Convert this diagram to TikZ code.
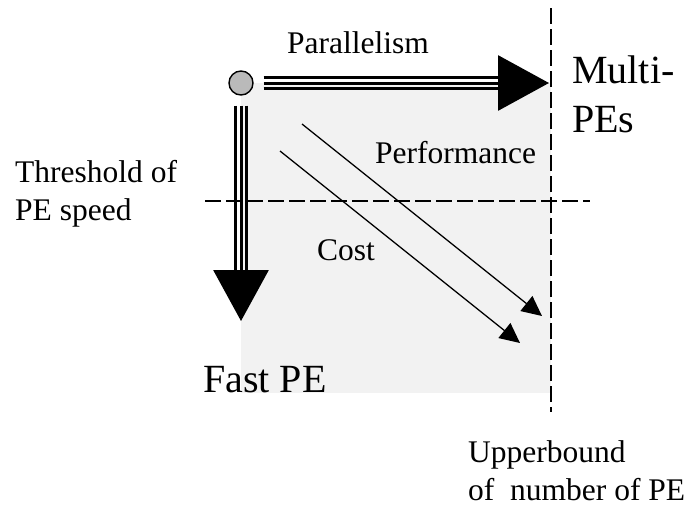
\documentclass[tikz,border=0pt]{standalone}
\usepackage{fontspec}
\setmainfont{Liberation Serif}
\usetikzlibrary{arrows.meta}
\begin{document}
\begin{tikzpicture}[x=1pt,y=-1pt,
  txt/.style={inner sep=0pt, anchor=base west, align=left,
    font=\fontsize{31.5}{38}\selectfont},
  bigtxt/.style={inner sep=0pt, anchor=base west, align=left,
    font=\fontsize{40}{49}\selectfont},
  guide/.style={line width=1.3pt, dash pattern=on 16pt off 5pt},
  rail/.style={line width=3pt},
  bigtip/.style={-{Triangle[length=51pt,width=55pt]}},
  trend/.style={line width=1.3pt, -{Triangle[length=20pt,width=19pt]}}]
\useasboundingbox (0,0) rectangle (688,506);

% design space
\fill[black!5] (241,83) rectangle (551,393);

% limits: PE count and PE speed
\coordinate (ubTop) at (551,8);
\coordinate (ubBot) at (551,412);
\coordinate (thL) at (205,201);
\coordinate (thR) at (590,201);
\draw[guide] (ubTop) -- (ubBot);
\draw[guide] (thL) -- (thR);

% performance and cost trends
\coordinate (perfA) at (302,124);
\coordinate (perfB) at (542,316);
\coordinate (costA) at (280,151);
\coordinate (costB) at (520,343);
\draw[trend] (perfA) -- (perfB);
\draw[trend] (costA) -- (costB);

% starting point and the two main directions
\node[circle, draw, line width=1.4pt, fill=black!27, minimum size=24pt,
  inner sep=0pt] (src) at (241,83) {};
\coordinate (hTip) at (549,83);
\coordinate (vTip) at (241,321);

\draw[rail, bigtip] ([xshift=10pt]src.east) -- (hTip);
\draw[rail] ([xshift=10pt,yshift=5.7pt]src.east) -- ([xshift=-51pt,yshift=5.7pt]hTip);
\draw[rail] ([xshift=10pt,yshift=-5.7pt]src.east) -- ([xshift=-51pt,yshift=-5.7pt]hTip);

\draw[rail, bigtip] ([yshift=-10pt]src.south) -- (vTip);
\draw[rail] ([xshift=5.7pt,yshift=-10pt]src.south) -- ([xshift=5.7pt,yshift=51pt]vTip);
\draw[rail] ([xshift=-5.7pt,yshift=-10pt]src.south) -- ([xshift=-5.7pt,yshift=51pt]vTip);

% labels (multi-line nodes sit on the baseline of their last line)
\node[txt] (par) at (287,53) {Parallelism};
\node[txt] (perf) at (375,163) {Performance};
\node[txt] (cost) at (317,260) {Cost};
\node[txt] (thr) at (15,220) {Threshold of\\PE speed};
\node[txt] (ub) at (468,500) {Upperbound\\of\ \ number of PE};
\node[bigtxt] (multi) at (572,132) {Multi-\\PEs};
\node[bigtxt] (fast) at (203,392) {Fast PE};
\end{tikzpicture}
\end{document}
